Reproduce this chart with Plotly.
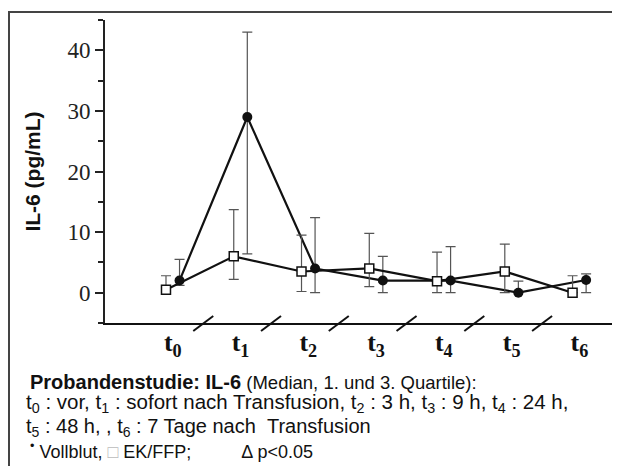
import plotly.graph_objects as go

# ---- data ----
time_labels = ["t<sub>0</sub>", "t<sub>1</sub>", "t<sub>2</sub>", "t<sub>3</sub>",
               "t<sub>4</sub>", "t<sub>5</sub>", "t<sub>6</sub>"]
time_pos = [0, 1, 2, 3, 4, 5, 6]

voll_median = [2.0, 29.0, 4.0, 2.0, 2.0, 0.0, 2.1]
voll_q1 = [1.2, 6.4, 0.0, 0.0, 0.0, 0.0, 0.0]
voll_q3 = [5.5, 43.0, 12.4, 6.0, 7.6, 1.9, 3.1]

ek_median = [0.5, 6.0, 3.5, 4.0, 1.9, 3.5, 0.0]
ek_q1 = [0.0, 2.2, 0.2, 1.0, 0.0, 0.0, 0.0]
ek_q3 = [2.8, 13.7, 9.5, 9.8, 6.7, 8.0, 2.8]

y_ticks = [0, 10, 20, 30, 40]

# ---- layout geometry (page has an 8px body margin) ----
BODY = 8
W, H = 620 - BODY, 466 - BODY
ML, MR, MT, MB = 105 - BODY, 0, 20 - BODY, 143
PW, PH = W - ML - MR, H - MT - MB
X_RANGE = [-1.0, 6.6]
Y_RANGE = [-5, 45]


def px_x(px):  # page pixel -> paper x
    return (px - BODY - ML) / PW


def px_y(py):  # page pixel -> paper y
    return (H - MB - (py - BODY)) / PH


OFF = 0.1
x_voll = [p + OFF for p in time_pos]
x_ek = [p - OFF for p in time_pos]

ERR_COL = "#555555"

fig = go.Figure()
fig.add_trace(go.Scatter(
    x=x_voll, y=voll_median, name="Vollblut", mode="lines+markers",
    line=dict(color="#111111", width=2.2),
    marker=dict(symbol="circle", size=10, color="#111111"),
    error_y=dict(type="data", symmetric=False,
                 array=[q - m for q, m in zip(voll_q3, voll_median)],
                 arrayminus=[m - q for q, m in zip(voll_q1, voll_median)],
                 color=ERR_COL, thickness=1.2, width=5),
))
fig.add_trace(go.Scatter(
    x=x_ek, y=ek_median, name="EK/FFP", mode="lines+markers",
    line=dict(color="#111111", width=2.2),
    marker=dict(symbol="square", size=9, color="white",
                line=dict(color="#111111", width=1.5)),
    error_y=dict(type="data", symmetric=False,
                 array=[q - m for q, m in zip(ek_q3, ek_median)],
                 arrayminus=[m - q for q, m in zip(ek_q1, ek_median)],
                 color=ERR_COL, thickness=1.2, width=5),
))

# axis break marks on x axis (paper refs so they are not clipped)
shapes = []
for p in time_pos[:-1]:
    xa = (p + 0.45 - X_RANGE[0]) / (X_RANGE[1] - X_RANGE[0])
    shapes.append(dict(type="line", xref="paper", yref="paper",
                       xsizemode="pixel", xanchor=xa, x0=-10, x1=10,
                       ysizemode="pixel", yanchor=0, y0=-8, y1=7,
                       line=dict(color="#111111", width=2)))

# frame (left + top edges)
shapes.append(dict(type="path", xref="paper", yref="paper",
                   path=f"M {px_x(9)},{px_y(480)} L {px_x(9)},{px_y(12)} L {px_x(630)},{px_y(12)}",
                   line=dict(color="#444444", width=2)))

fig.update_layout(
    width=W, height=H,
    margin=dict(l=ML, r=MR, t=MT, b=MB, pad=0),
    paper_bgcolor="white", plot_bgcolor="white",
    showlegend=False,
    shapes=shapes,
    font=dict(family="Liberation Sans, Arial", color="#111111"),
)

fig.update_xaxes(
    range=X_RANGE, tickvals=time_pos,
    ticktext=[f"<b>{t}</b>" for t in time_labels],
    tickfont=dict(family="Liberation Serif, Times New Roman", size=26, color="#111111"),
    ticks="", ticklen=0, ticklabelstandoff=-5,
    showline=True, linecolor="#111111", linewidth=2,
    showgrid=False, zeroline=False,
)
fig.update_yaxes(
    range=Y_RANGE, tickvals=y_ticks,
    tickfont=dict(family="Liberation Serif, Times New Roman", size=23, color="#222222"),
    ticks="outside", ticklen=8, tickwidth=1.5, tickcolor="#222222",
    minor=dict(tickvals=[-5, 5, 15, 25, 35, 45], ticks="outside", ticklen=5,
               tickwidth=1.5, tickcolor="#222222", showgrid=False),
    showline=True, linecolor="#222222", linewidth=2,
    showgrid=False, zeroline=False,
    title=dict(text="<b>IL-6 (pg/mL)</b>", font=dict(family="Liberation Sans, Arial", size=21, color="#111111"),
               standoff=21),
)

NB = "\u00a0"
lines = [
    (28, 382, 18.5, "<span style='font-size:20px'><b>Probandenstudie: IL-6</b></span> (Median, 1. und 3. Quartile):"),
    (24, 403, 20.5, "t<sub>0</sub> : vor, t<sub>1</sub> : sofort nach Transfusion, t<sub>2</sub> : 3 h, "
                    "t<sub>3</sub> : 9 h, t<sub>4</sub> : 24 h,"),
    (24, 428, 20, f"t<sub>5</sub> : 48 h, , t<sub>6</sub> : 7 Tage nach{NB}{NB}Transfusion"),
    (28, 450, 18, f"<sup>•</sup> Vollblut, <span style='color:#bbbbbb'>□</span> EK/FFP;"
                  f"{NB * 10}Δ p&lt;0.05"),
]
for x, y, size, txt in lines:
    fig.add_annotation(xref="paper", yref="paper", x=px_x(x), y=px_y(y),
                       xanchor="left", yanchor="middle", showarrow=False,
                       text=txt, font=dict(family="Liberation Sans, Arial", size=size, color="#111111"))

fig.write_html("out.html")
